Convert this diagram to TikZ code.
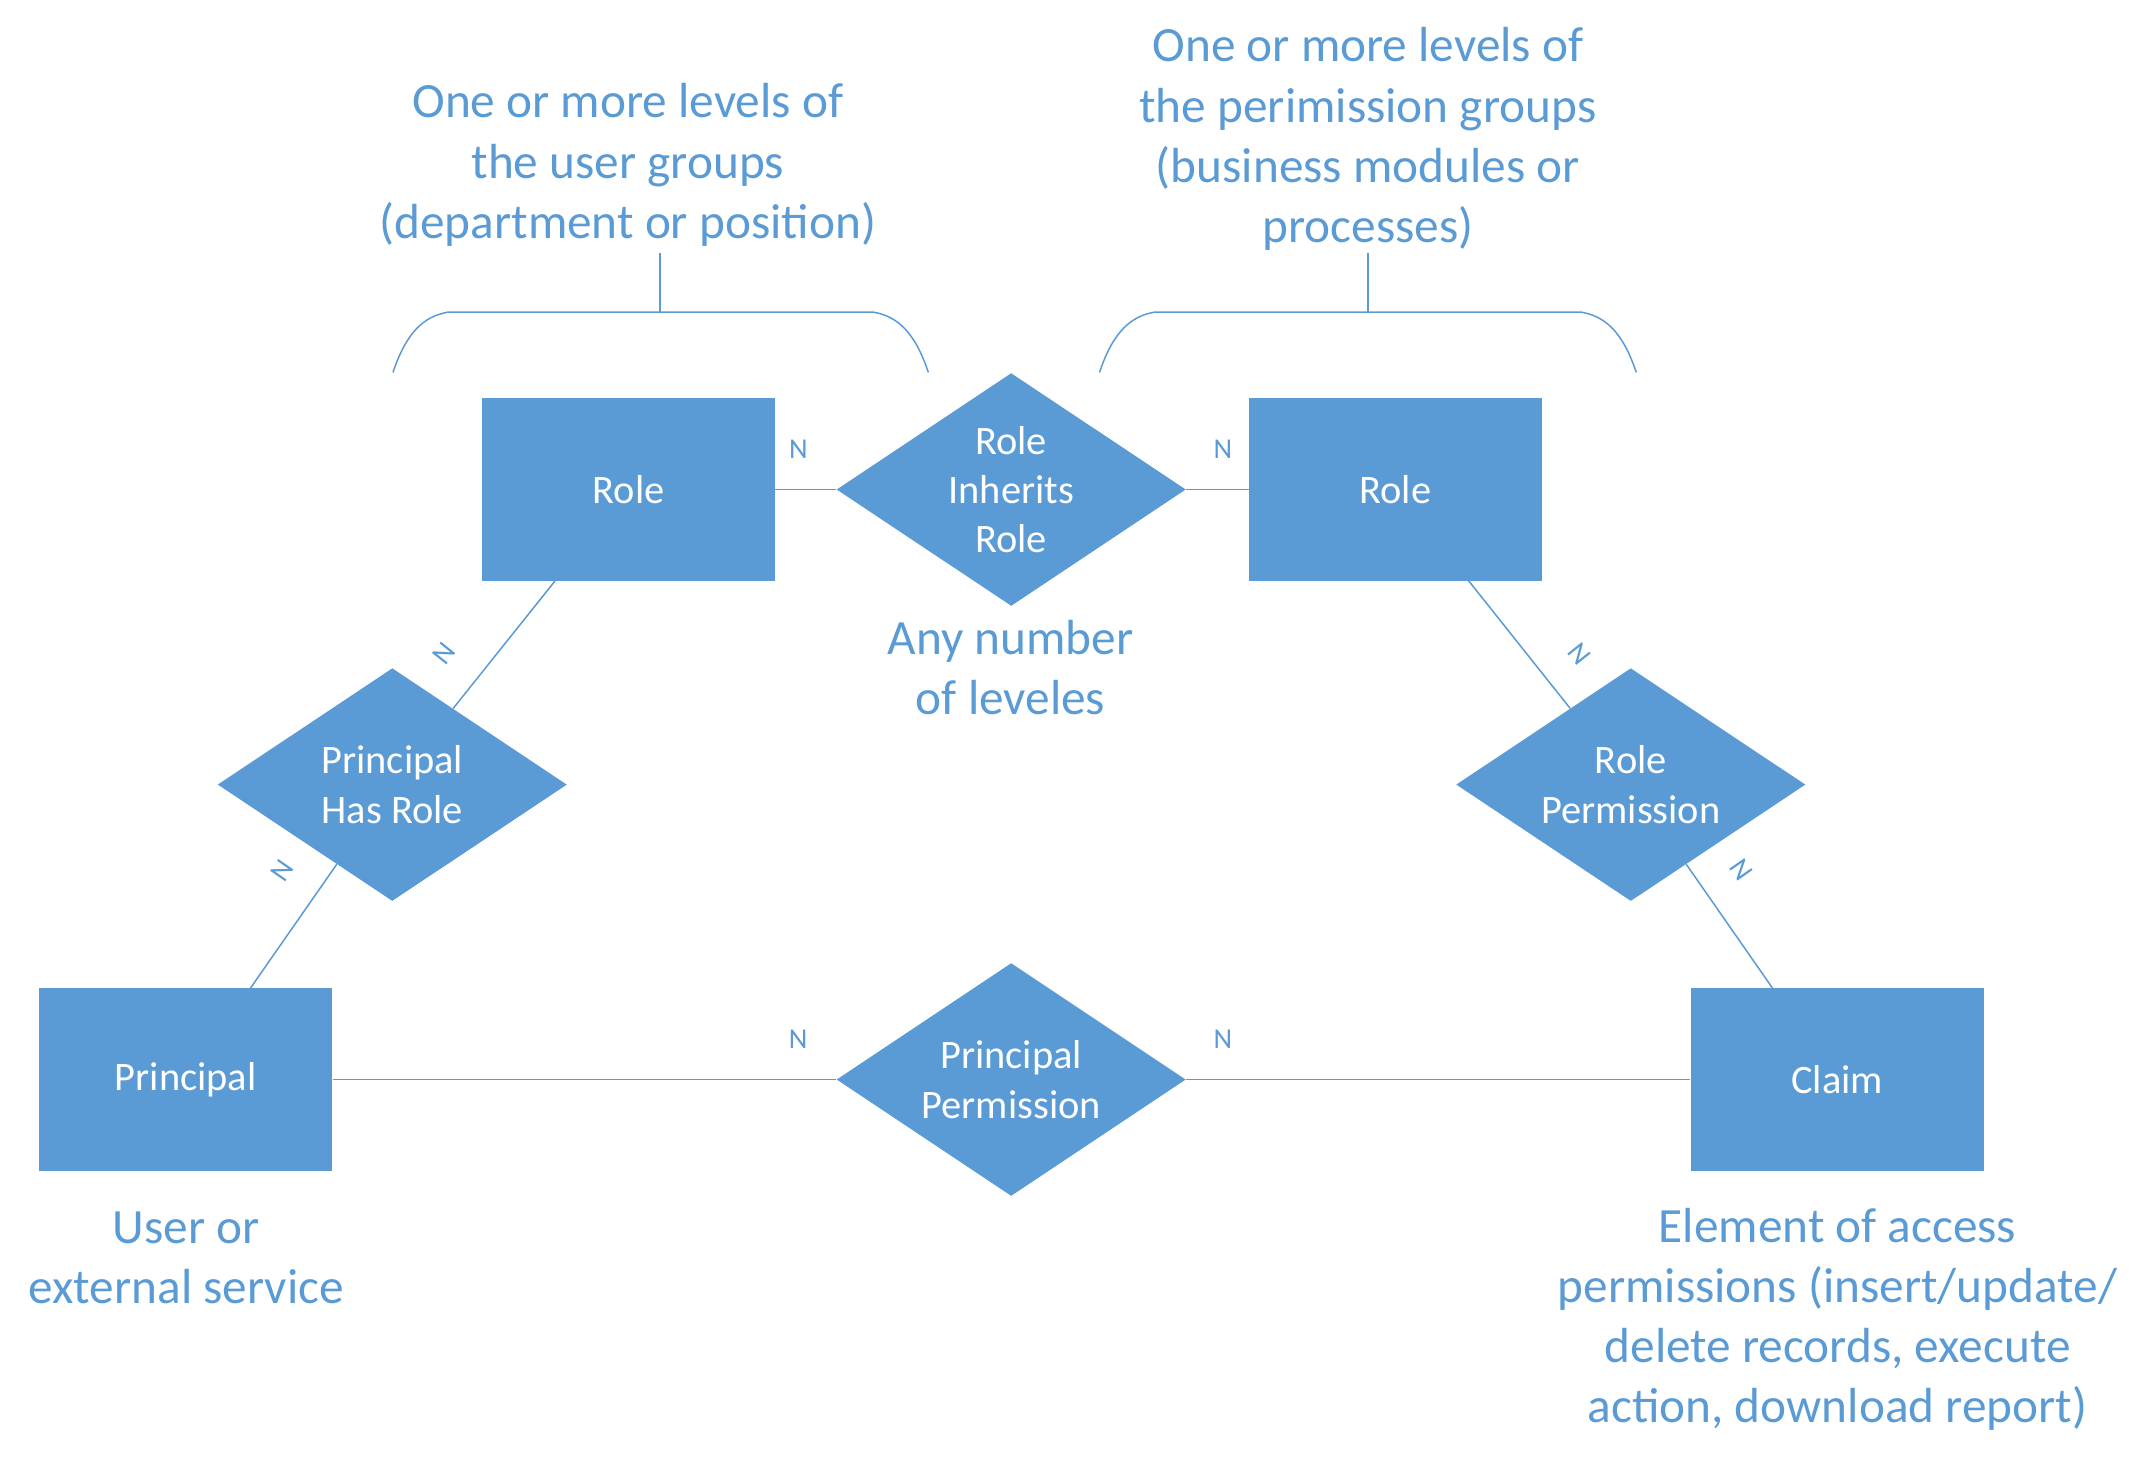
\documentclass[tikz,border=0pt]{standalone}
\usepackage{fontspec}
\setmainfont{Carlito}
\usetikzlibrary{shapes.geometric,calc}
\definecolor{erblue}{HTML}{5B9BD5}
\newcommand\ermnodefont{\fontsize{29.5}{36}\selectfont}
\newcommand\ermnotefont{\fontsize{36}{44}\selectfont}
\newcommand\ermcardfont{\fontsize{21}{25}\selectfont}
\begin{document}
\begin{tikzpicture}[x=1pt,y=-1pt,
  entity/.style={rectangle, fill=erblue, draw=none, minimum width=214pt, minimum height=133pt, inner sep=0pt, text=white, font=\ermnodefont},
  relation/.style={diamond, fill=erblue, draw=none, minimum width=255pt, minimum height=170pt, inner sep=0pt, aspect=1.5, text=white, font=\ermnodefont, align=center},
  conn/.style={draw=erblue, line width=1.1pt},
  card/.style={font=\ermcardfont, text=erblue, inner sep=0pt},
  note/.style={font=\ermnotefont, text=erblue, align=center, inner sep=0pt}
]
\useasboundingbox (0,0) rectangle (1568,1065.5);

% entities and relations
\node[entity] (role1) at (459,357.5) {Role};
\node[relation] (rir) at (738.5,357.5) {Role\\Inherits\\Role};
\node[entity] (role2) at (1019,357.5) {Role};
\node[relation] (phr) at (286.5,573) {Principal\\Has Role};
\node[relation] (rp) at (1191,573) {Role\\Permission};
\node[entity] (principal) at (135.7,788.4) {Principal};
\node[relation] (pp) at (738.5,788.4) {Principal\\Permission};
\node[entity] (claim) at (1341.7,788.4) {Claim};

% notes
\node[note] (n1) at (458.5,120.5) {One or more levels of\\the user groups\\(department or position)};
\node[note] (n2) at (999,101.5) {One or more levels of\\the perimission groups\\(business modules or\\processes)};
\node[note] (n3) at (738,487.5) {Any number\\of leveles};
\node[note] (n4) at (136,918.5) {User or\\external service};
\node[note] (n5) at (1342,963.5) {Element of access\\permissions (insert/update/\\delete records, execute\\action, download report)};

% connectors
\draw[conn] (role1.east) -- node[card, pos=0.38, above=22pt] {N} (rir.west);
\draw[conn] (rir.east) -- node[card, pos=0.59, above=22pt] {N} (role2.west);
\draw[conn] ($(role1.south west)!0.25!(role1.south east)$) -- node[card, pos=0.774, sloped, above=23pt] {N} (phr);
\draw[conn] ($(principal.north west)!0.72!(principal.north east)$) -- node[card, pos=0.76, sloped, above=23pt] {N} (phr);
\draw[conn] ($(role2.south west)!0.75!(role2.south east)$) -- node[card, pos=0.774, sloped, above=23pt] {N} (rp);
\draw[conn] ($(claim.north west)!0.28!(claim.north east)$) -- node[card, pos=0.76, sloped, above=23pt] {N} (rp);
\draw[conn] (principal.east) -- node[card, pos=0.924, above=22pt] {N} (pp.west);
\draw[conn] (pp.east) -- node[card, pos=0.073, above=22pt] {N} (claim.west);

% braces
\coordinate (b1) at (482,228);
\coordinate (b2) at (999,228);
\draw[conn] (287,272) .. controls (297,242) and (310,231) .. (327,228) -- (638,228) .. controls (655,231) and (668,242) .. (678,272);
\draw[conn] (b1) -- ++(0,-43);
\draw[conn] (803,272) .. controls (813,242) and (826,231) .. (843,228) -- (1155,228) .. controls (1172,231) and (1185,242) .. (1195,272);
\draw[conn] (b2) -- ++(0,-43);
\end{tikzpicture}
\end{document}
